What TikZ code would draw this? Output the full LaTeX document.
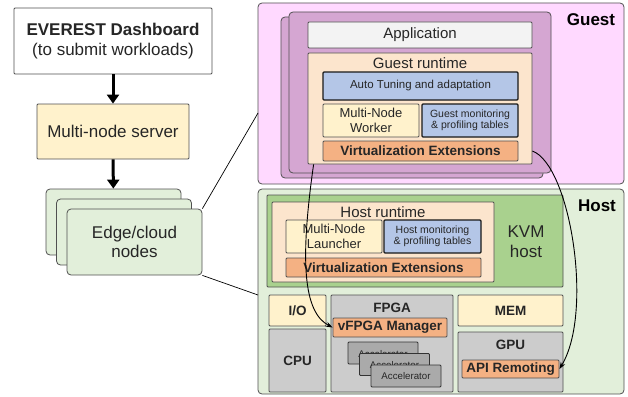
\documentclass[tikz,border=0pt]{standalone}
\usepackage{fontspec}
\setmainfont{Liberation Sans}
\usetikzlibrary{arrows.meta}
\definecolor{myframe}{RGB}{80,80,80}
\definecolor{mypink}{RGB}{255,217,255}
\definecolor{myviolet}{RGB}{213,166,210}
\definecolor{mylight}{RGB}{243,243,243}
\definecolor{mypeach}{RGB}{252,229,205}
\definecolor{myblue}{RGB}{180,198,231}
\definecolor{myyellow}{RGB}{255,242,204}
\definecolor{myorange}{RGB}{244,177,131}
\definecolor{mygreen}{RGB}{226,239,218}
\definecolor{mykvm}{RGB}{169,209,142}
\definecolor{mygray}{RGB}{204,204,204}
\definecolor{mydark}{RGB}{170,170,170}
\tikzset{
    box/.style={draw=myframe, line width=0.8pt, inner sep=0pt, align=center,
        text=black!85, rounded corners=1pt},
    panel/.style={box, rounded corners=4pt},
    fs/.style={font=\fontsize{#1}{1.2\dimexpr#1pt\relax}\selectfont},
    fsb/.style={font=\fontsize{#1}{1.2\dimexpr#1pt\relax}\selectfont\bfseries},
    blk/.style={box, draw=black!90, line width=1.2pt},
    accel/.style={box, draw=black!80, fill=mydark, minimum width=70pt,
        minimum height=22pt, fs=9.7},
    bigarrow/.style={line width=3pt, -{Triangle[width=12pt,length=9pt]}},
    flow/.style={line width=0.9pt, -{Stealth[length=7pt,width=5pt]}},
}

\begin{document}
\begin{tikzpicture}[x=1pt, y=-1pt]
    \useasboundingbox (0,0) rectangle (628,396);
    \begin{scope}
        \node[box, fill=white, minimum width=198pt, minimum height=66pt,
            font=\fontsize{17}{20}\selectfont] (dash) at (113,41)
            {\textbf{EVEREST Dashboard}\\(to submit workloads)};
        \node[box, fill=myyellow, minimum width=152pt, minimum height=55pt, fs=17]
            (server) at (113,131.5) {Multi-node server};
        \node[panel, fill=mygreen, minimum width=135pt, minimum height=66pt]
            (edgeA) at (113.5,222) {};
        \node[panel, fill=mygreen, minimum width=135pt, minimum height=66pt]
            (edgeB) at (124,232) {};
        \node[panel, fill=mygreen, minimum width=135pt, minimum height=66pt,
            font=\fontsize{17}{19}\selectfont] (edge) at (134.5,242) {Edge/cloud\\nodes};
        \draw[bigarrow] (dash) -- (server);
        \draw[bigarrow] (server) -- (edgeA);
    \end{scope}
    \begin{scope}
        \node[panel, fill=mypink, minimum width=366pt, minimum height=181pt]
            (guest) at (441,93.5) {};
        \node[fsb=17, text=black] (guestlbl) at (591,20) {Guest};
        \node[panel, fill=myviolet, minimum width=262pt, minimum height=161pt]
            (vmA) at (412,97.5) {};
        \node[panel, fill=myviolet, minimum width=262pt, minimum height=161pt]
            (vm) at (420,92.5) {};
        \node[box, fill=mylight, minimum width=224pt, minimum height=26pt, fs=15]
            (app) at (420,35) {Application};
        \node[box, fill=mypeach, minimum width=224pt, minimum height=111pt]
            (gruntime) at (420,108.5) {};
        \node[fs=15, text=black!85] (gruntimelbl) at (420,63) {Guest runtime};
        \node[blk, fill=myblue, minimum width=195pt, minimum height=28pt, fs=11.5]
            (tuning) at (420.5,86) {Auto Tuning and adaptation};
        \node[box, fill=myyellow, minimum width=96pt, minimum height=33pt,
            font=\fontsize{13}{15}\selectfont] (worker) at (371,120.5) {Multi-Node\\Worker};
        \node[blk, fill=myblue, minimum width=96pt, minimum height=33pt,
            font=\fontsize{10.5}{11.5}\selectfont] (gmon) at (470,120.5)
            {Guest monitoring\\\& profiling tables};
        \node[box, fill=myorange, minimum width=195pt, minimum height=20pt, fsb=13.5]
            (gvirt) at (420.5,151) {Virtualization Extensions};
    \end{scope}
    \begin{scope}
        \node[panel, fill=mygreen, minimum width=366pt, minimum height=205pt]
            (host) at (441,291.5) {};
        \node[fsb=17, text=black] (hostlbl) at (597,206) {Host};
        \node[box, fill=mykvm, minimum width=296pt, minimum height=92pt]
            (kvm) at (415,241) {};
        \node[font=\fontsize{17}{20}\selectfont, align=center, text=black!85]
            (kvmlbl) at (526,242) {KVM\\host};
        \node[box, fill=mypeach, minimum width=222pt, minimum height=80pt]
            (hruntime) at (383,242) {};
        \node[fs=15, text=black!85] (hruntimelbl) at (383,212) {Host runtime};
        \node[box, fill=myyellow, minimum width=96pt, minimum height=33pt,
            font=\fontsize{13}{15}\selectfont] (launcher) at (334,236.5) {Multi-Node\\Launcher};
        \node[blk, fill=myblue, minimum width=97pt, minimum height=33pt,
            font=\fontsize{10.5}{11.5}\selectfont] (hmon) at (432.5,236.5)
            {Host monitoring\\\& profiling tables};
        \node[box, fill=myorange, minimum width=195pt, minimum height=19pt, fsb=13.5]
            (hvirt) at (383.5,267.5) {Virtualization Extensions};
        \node[box, fill=myyellow, minimum width=57pt, minimum height=31pt, fsb=13.5]
            (io) at (297.5,310.5) {I/O};
        \node[box, fill=mygray, minimum width=57pt, minimum height=63pt, fsb=13.5]
            (cpu) at (297.5,360.5) {CPU};
        \node[box, fill=mygray, minimum width=122pt, minimum height=97pt]
            (fpga) at (392,343.5) {};
        \node[fsb=13.5, text=black!85] (fpgalbl) at (392,308) {FPGA};
        \node[box, fill=myorange, minimum width=114pt, minimum height=19pt, fsb=13.5]
            (vfpga) at (390,327.5) {vFPGA Manager};
        \node[accel] (accA) at (383,353) {\raisebox{-4pt}[0pt][0pt]{Accelerator}};
        \node[accel] (accB) at (394.5,364.5) {\raisebox{-4pt}[0pt][0pt]{Accelerator}};
        \node[accel] (acc) at (406,376) {Accelerator};
        \node[box, fill=myyellow, minimum width=105pt, minimum height=31pt, fsb=13.5]
            (mem) at (510.5,310.5) {MEM};
        \node[box, fill=mygray, minimum width=105pt, minimum height=60pt]
            (gpu) at (510.5,362) {};
        \node[fsb=13.5, text=black!85] (gpulbl) at (510.5,345) {GPU};
        \node[box, fill=myorange, minimum width=97pt, minimum height=18pt, fsb=13.5]
            (apirem) at (510.5,369) {API Remoting};
    \end{scope}
    \coordinate (guesthit) at (258,113);
    \coordinate (hosthit) at (258,295);
    \draw[line width=0.7pt] (edge.north east) -- (guesthit);
    \draw[line width=0.7pt] (edge.south east) -- (hosthit);
    \draw[flow] ([xshift=6pt]gruntime.south west)
        .. controls (300,260) and (303,312) .. (vfpga.west);
    \draw[flow] (gruntime.east |- gvirt.east)
        .. controls (570,165) and (594,312) .. (apirem.east);
\end{tikzpicture}
\end{document}
